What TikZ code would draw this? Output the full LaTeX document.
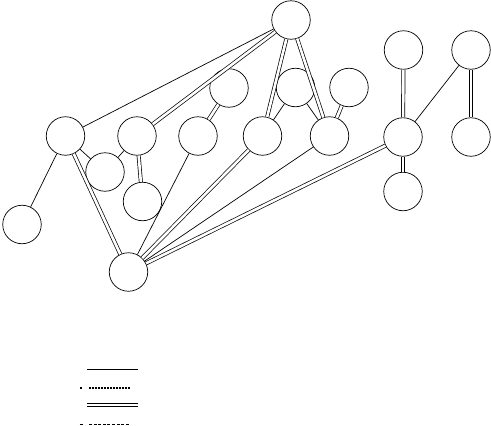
\documentclass[tikz,border=0pt]{standalone}
\begin{document}
\begin{tikzpicture}[x=1pt,y=-1pt,
  vtx/.style={circle,draw,line width=0.7pt,minimum size=38.5pt,inner sep=0pt},
  sgl/.style={line width=0.7pt},
  dbl/.style={double,line width=0.7pt,double distance=2.6pt},
  dotl/.style={line width=1.1pt,dash pattern=on 2pt off 1pt},
  dashl/.style={line width=0.8pt,dash pattern=on 3pt off 1.6pt}]
\useasboundingbox (0,0) rectangle (491,426);
\node[vtx] (top) at (291,20) {};
\node[vtx] (A) at (65.5,136) {};
\node[vtx] (B) at (137,136) {};
\node[vtx] (C) at (198,136) {};
\node[vtx] (D) at (229,88) {};
\node[vtx] (E) at (262.5,136) {};
\node[vtx] (F) at (295.5,87.5) {};
\node[vtx] (G) at (329.5,136) {};
\node[vtx] (H) at (349,87.5) {};
\node[vtx] (I) at (403.5,50) {};
\node[vtx] (J) at (471,50) {};
\node[vtx] (K) at (403,137) {};
\node[vtx] (L) at (471,137) {};
\node[vtx] (M) at (403,191.5) {};
\node[vtx] (N) at (105,172) {};
\node[vtx] (O) at (142.5,201.5) {};
\node[vtx] (P) at (22,224.5) {};
\node[vtx] (Q) at (128.5,272) {};
\draw[sgl] (top) -- (A);
\draw[dbl] (top) -- (B);
\draw[dbl] (top) -- (E);
\draw[dbl] (top) -- (G);
\draw[dbl] (D) -- (C);
\draw[sgl] (F) -- (E);
\draw[sgl] (F) -- (G);
\draw[dbl] (H) -- (G);
\draw[dbl] (I) -- (K);
\draw[sgl] (J) -- (K);
\draw[dbl] (J) -- (L);
\draw[dbl] (K) -- (M);
\draw[sgl] (A) -- (N);
\draw[sgl] (B) -- (N);
\draw[dbl] (B) -- (O);
\draw[sgl] (A) -- (P);
\draw[dbl] (A) -- (Q);
\draw[sgl] (C) -- (Q);
\draw[dbl] (E) -- (Q);
\draw[sgl] (G) -- (Q);
\draw[dbl] (K) -- (Q);
% legend
\coordinate (l1a) at (87,369); \coordinate (l1b) at (138,369);
\coordinate (l2d) at (81,388); \coordinate (l2a) at (89,388); \coordinate (l2b) at (130,388);
\coordinate (l3a) at (87,405); \coordinate (l3b) at (138,405);
\coordinate (l4d) at (81,424); \coordinate (l4a) at (89,424); \coordinate (l4b) at (130,424);
\draw[sgl] (l1a) -- (l1b);
\fill (l2d) ++(-1.3,-1.1) rectangle ++(2.6,2.2);
\draw[dotl] (l2a) -- (l2b);
\draw[dbl] (l3a) -- (l3b);
\draw[line width=0.8pt] (l4d) ++(-1.3,0) -- ++(2.8,0);
\draw[dashl] (l4a) -- (l4b);
\end{tikzpicture}
\end{document}
